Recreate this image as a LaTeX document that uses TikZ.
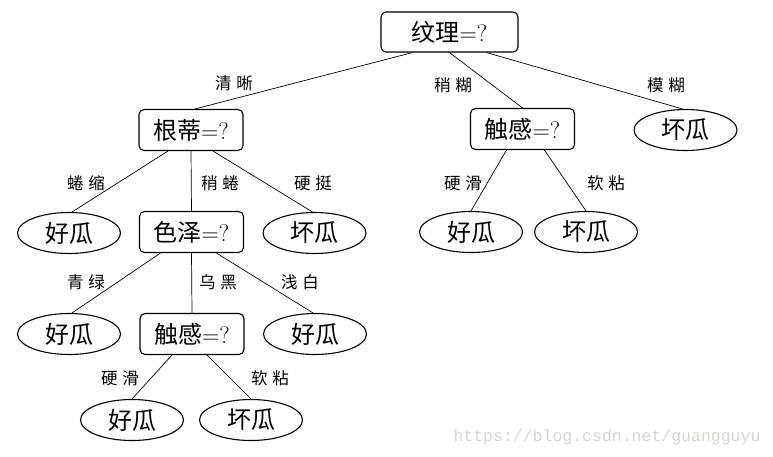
\documentclass[tikz,border=0pt]{standalone}
\usepackage{fontspec}
\usetikzlibrary{shapes.geometric}
\newfontfamily\cjk{Noto Sans CJK SC}
\newfontfamily\cjklbl[LetterSpace=30]{Noto Sans CJK SC}
\setmonofont{Liberation Mono}
\definecolor{wmcol}{RGB}{214,214,204}
\tikzset{every picture/.style={x=1pt,y=-1pt}}
\tikzset{test/.style={draw,rounded corners=5pt,line width=1.1pt,minimum width=104pt,minimum height=41pt,inner sep=0pt,font=\fontsize{24}{24}\selectfont}}
\tikzset{leaf/.style={ellipse,draw,line width=1.1pt,minimum width=103pt,minimum height=41pt,inner sep=0pt,font=\cjk\fontsize{24}{24}\selectfont}}
\tikzset{edge/.style={line width=0.7pt}}
\tikzset{lbl/.style={font=\cjklbl\fontsize{16.5}{16.5}\selectfont,inner sep=0pt}}

\begin{document}
\begin{tikzpicture}
\useasboundingbox (0,0) rectangle (773,456);

\node [test,minimum width=137pt,minimum height=40pt] (wl) at (449.5,32) {{\cjk 纹理}=?};

\node [test] (gd) at (191,130) {{\cjk 根蒂}=?};
\node [test] (cg1) at (522.5,129) {{\cjk 触感}=?};
\node [leaf] (h1) at (685.5,130) {坏瓜};

\node [leaf] (g1) at (69,233) {好瓜};
\node [test] (sz) at (191.5,232) {{\cjk 色泽}=?};
\node [leaf] (h2) at (314.5,233) {坏瓜};
\node [leaf] (g2) at (471,232) {好瓜};
\node [leaf] (h3) at (586,232) {坏瓜};

\node [leaf] (g3) at (69,334) {好瓜};
\node [test] (cg2) at (192,334) {{\cjk 触感}=?};
\node [leaf] (g4) at (315,334) {好瓜};

\node [leaf] (g5) at (132,420) {好瓜};
\node [leaf] (h4) at (251,420) {坏瓜};

\draw [edge] ([xshift=-37pt]wl.south) -- ([xshift=4pt]gd.north);
\draw [edge] (wl.south) -- (cg1.north);
\draw [edge] ([xshift=37pt]wl.south) -- ([xshift=-3pt]h1.north);

\draw [edge] ([xshift=-23pt]gd.south) -- ([xshift=3pt]g1.north);
\draw [edge] (gd.south) -- (sz.north);
\draw [edge] ([xshift=22pt]gd.south) -- ([xshift=-2pt]h2.north);

\draw [edge] ([xshift=-16pt]cg1.south) -- (g2.north);
\draw [edge] ([xshift=22pt]cg1.south) -- (h3.north);

\draw [edge] ([xshift=-31pt]sz.south) -- ([xshift=3pt]g3.north);
\draw [edge] (sz.south) -- (cg2.north);
\draw [edge] ([xshift=25pt]sz.south) -- ([xshift=-2pt]g4.north);

\draw [edge] ([xshift=-20pt]cg2.south) -- (g5.north);
\draw [edge] ([xshift=15pt]cg2.south) -- (h4.north);

\node [lbl] (l1) at (234,83) {清晰};
\node [lbl] (l2) at (453,85) {稍糊};
\node [lbl] (l3) at (666,85) {模糊};
\node [lbl] (l4) at (86,183) {蜷缩};
\node [lbl] (l5) at (220,183) {稍蜷};
\node [lbl] (l6) at (313,183) {硬挺};
\node [lbl] (l7) at (463,183) {硬滑};
\node [lbl] (l8) at (606,183) {软粘};
\node [lbl] (l9) at (86,282) {青绿};
\node [lbl] (l10) at (218,282) {乌黑};
\node [lbl] (l11) at (300,282) {浅白};
\node [lbl] (l12) at (120,378) {硬滑};
\node [lbl] (l13) at (270,378) {软粘};

\node [wmcol,font=\ttfamily\fontsize{16.5}{16.5}\selectfont,inner sep=0pt] (wm) at (607,437) {https://blog.csdn.net/guangguyu};
\end{tikzpicture}
\end{document}
